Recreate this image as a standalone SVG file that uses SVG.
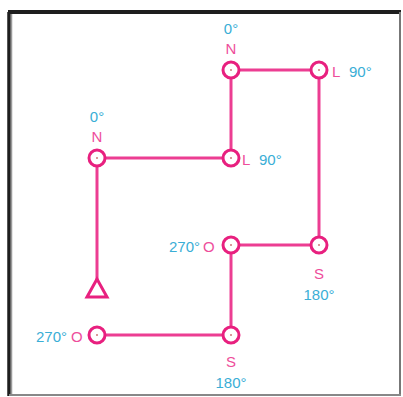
<svg xmlns="http://www.w3.org/2000/svg" width="403" height="397" viewBox="0 0 403 397">
<style>
.ln{stroke:#ec3d92;stroke-width:3;fill:none}
.nd{fill:#fff;stroke:#e8207f;stroke-width:3}
.dot{fill:#c77}
.p{fill:#ee4e9b;font-family:"Liberation Sans",Arial,sans-serif;font-size:15px}
.b{fill:#3aaed6;font-family:"Liberation Sans",Arial,sans-serif;font-size:15px}
</style>
<rect width="403" height="397" fill="#fff"/>
<g id="frame">
<line x1="8" y1="12" x2="401" y2="12" stroke="#1e1e1e" stroke-width="4"/>
<line x1="9" y1="12" x2="9" y2="396" stroke="#1e1e1e" stroke-width="3.5"/>
<line x1="11.5" y1="14" x2="11.5" y2="394" stroke="#999" stroke-width="1.5"/>
<line x1="400" y1="12" x2="400" y2="396" stroke="#777" stroke-width="2"/>
<line x1="9" y1="395" x2="401" y2="395" stroke="#888" stroke-width="2"/>
</g>
<g id="connectors">
<line class="ln" x1="231" y1="70" x2="319" y2="70"/>
<line class="ln" x1="231" y1="70" x2="231" y2="158"/>
<line class="ln" x1="97" y1="158" x2="231" y2="158"/>
<line class="ln" x1="319" y1="70" x2="319" y2="245"/>
<line class="ln" x1="231" y1="245" x2="319" y2="245"/>
<line class="ln" x1="231" y1="245" x2="231" y2="335"/>
<line class="ln" x1="97" y1="335" x2="231" y2="335"/>
<line class="ln" x1="97" y1="158" x2="97" y2="282"/>
</g>
<g id="n1"><circle class="nd" cx="231" cy="70" r="8"/><circle class="dot" cx="231" cy="70" r="1"/>
<text class="b" x="231" y="34" text-anchor="middle">0°</text><text class="p" x="231" y="54" text-anchor="middle">N</text></g>
<g id="n2"><circle class="nd" cx="319" cy="70" r="8"/><circle class="dot" cx="319" cy="70" r="1"/>
<text class="p" x="332" y="77">L</text><text class="b" x="349" y="77">90°</text></g>
<g id="n3"><circle class="nd" cx="97" cy="158" r="8"/><circle class="dot" cx="97" cy="158" r="1"/>
<text class="b" x="97" y="122" text-anchor="middle">0°</text><text class="p" x="97" y="142" text-anchor="middle">N</text></g>
<g id="n4"><circle class="nd" cx="231" cy="158" r="8"/><circle class="dot" cx="231" cy="158" r="1"/>
<text class="p" x="242" y="165">L</text><text class="b" x="259" y="165">90°</text></g>
<g id="n5"><circle class="nd" cx="231" cy="245" r="8"/><circle class="dot" cx="231" cy="245" r="1"/>
<text class="b" x="200" y="252" text-anchor="end">270°</text><text class="p" x="203" y="252">O</text></g>
<g id="n6"><circle class="nd" cx="319" cy="245" r="8"/><circle class="dot" cx="319" cy="245" r="1"/>
<text class="p" x="319" y="279" text-anchor="middle">S</text><text class="b" x="319" y="300" text-anchor="middle">180°</text></g>
<g id="start"><polygon points="97,279 87,297 107,297" fill="#fff" stroke="#e8207f" stroke-width="3" stroke-linejoin="miter"/></g>
<g id="n7"><circle class="nd" cx="97" cy="335" r="8"/><circle class="dot" cx="97" cy="335" r="1"/>
<text class="b" x="67" y="342" text-anchor="end">270°</text><text class="p" x="71" y="342">O</text></g>
<g id="n8"><circle class="nd" cx="231" cy="335" r="8"/><circle class="dot" cx="231" cy="335" r="1"/>
<text class="p" x="231" y="367" text-anchor="middle">S</text><text class="b" x="231" y="388" text-anchor="middle">180°</text></g>
</svg>
